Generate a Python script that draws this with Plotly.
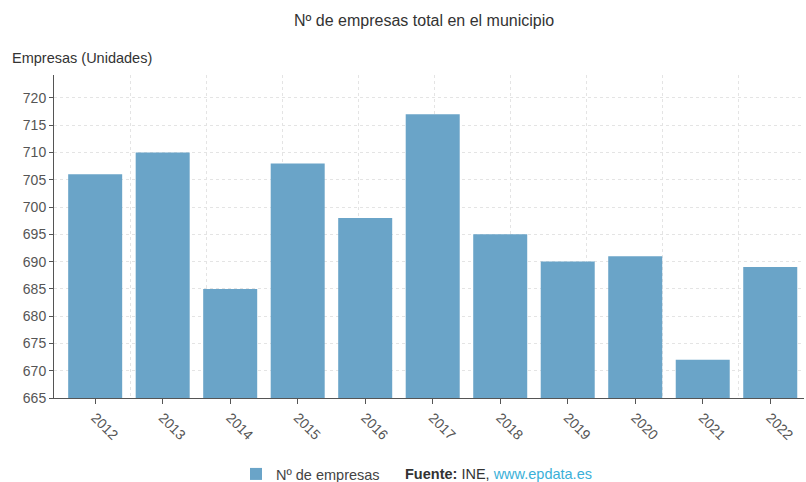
import plotly.graph_objects as go

years = ["2012", "2013", "2014", "2015", "2016", "2017", "2018", "2019", "2020", "2021", "2022"]
empresas = [706, 710, 685, 708, 698, 717, 695, 690, 691, 672, 689]
y_ticks = [665, 670, 675, 680, 685, 690, 695, 700, 705, 710, 715, 720]

W, H = 806, 482
L, R, T, B = 54, 2, 75, 84
PW, PH = W - L - R, H - T - B

def cx(p):
    return p / W

def cy(p):
    return 1 - p / H

def ax(p):
    return (p - L) / PW

def ay(p):
    return (H - B - p) / PH

FONT = "Liberation Sans, Arial, sans-serif"

fig = go.Figure()
fig.add_trace(go.Bar(
    x=list(range(len(years))), y=empresas, name="Nº de empresas",
    marker=dict(color="#6aa4c8", line=dict(width=0)), width=0.8,
    xaxis="x", yaxis="y",
))
# invisible trace to drive the vertical grid axis
fig.add_trace(go.Scatter(x=[0], y=[665], xaxis="x2", yaxis="y", mode="markers",
                         marker=dict(opacity=0), showlegend=False, hoverinfo="skip"))

fig.update_layout(
    width=W, height=H,
    margin=dict(l=L, r=R, t=T, b=B, autoexpand=False),
    paper_bgcolor="white", plot_bgcolor="white",
    font=dict(family=FONT, color="#444", size=14.5),
    xaxis=dict(
        range=[-0.61, 10.5], tickmode="array", tickvals=list(range(len(years))), ticktext=years,
        tickangle=45, ticks="outside", ticklen=5, tickcolor="#555",
        showgrid=False, showline=True, linecolor="#555", linewidth=1, zeroline=False,
        tickfont=dict(size=14, color="#555"), automargin=False,
    ),
    xaxis2=dict(
        overlaying="x", range=[0, 750 / 76], dtick=1, showgrid=True,
        gridcolor="#e4e4e4", griddash="dot", gridwidth=1,
        showticklabels=False, zeroline=False, showline=False, ticks="", automargin=False,
    ),
    yaxis=dict(
        range=[665, 724.2], tickmode="array", tickvals=y_ticks,
        ticks="outside", ticklen=4, tickcolor="#555",
        showgrid=True, gridcolor="#e4e4e4", griddash="dot", gridwidth=1,
        showline=True, linecolor="#555", linewidth=1, zeroline=False,
        tickfont=dict(size=14, color="#555"), automargin=False,
    ),
    showlegend=True,
    legend=dict(orientation="h", xref="container", yref="container",
                x=cx(236), y=cy(474), xanchor="left", yanchor="middle",
                font=dict(size=14.5, color="#444"), bgcolor="rgba(0,0,0,0)"),
    annotations=[
        dict(text="Nº de empresas total en el municipio", xref="paper", yref="paper",
             x=ax(424), y=ay(20), xanchor="center", yanchor="middle", showarrow=False,
             font=dict(size=16, color="#333")),
        dict(text="Empresas (Unidades)", xref="paper", yref="paper",
             x=ax(10), y=ay(58), xanchor="left", yanchor="middle", showarrow=False,
             font=dict(size=14.5, color="#333")),
        dict(text="<b>Fuente:</b> INE, <span style='color:#3ab0d8'>www.epdata.es</span>",
             xref="paper", yref="paper", x=ax(403), y=ay(474),
             xanchor="left", yanchor="middle", showarrow=False, font=dict(size=14.5, color="#333")),
    ],
)

fig.write_html("out.html", config={"displayModeBar": False},
               post_script="document.body.style.margin='0';")
